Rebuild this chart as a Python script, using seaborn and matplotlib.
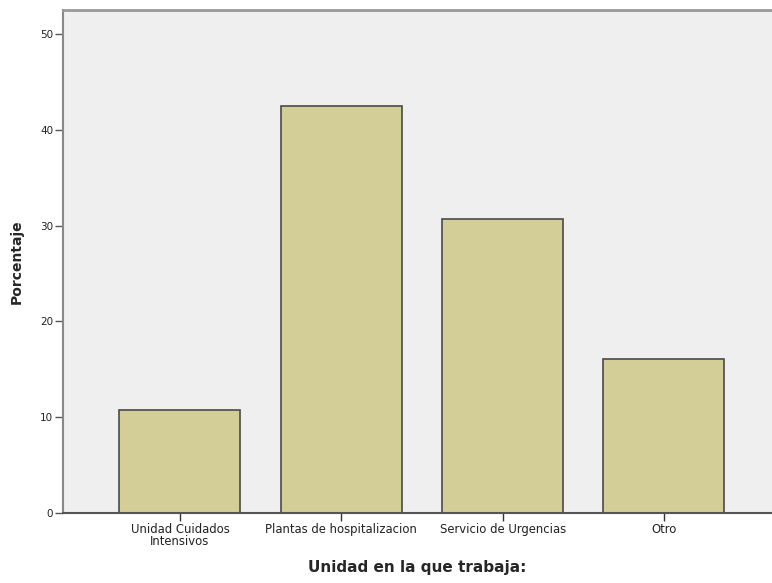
import pandas as pd
import matplotlib
matplotlib.use("Agg")
import matplotlib.pyplot as plt
import seaborn as sns

# ==============================================================================
# DATOS
# ==============================================================================
categorias = ["Unidad Cuidados\nIntensivos", "Plantas de hospitalizacion",
              "Servicio de Urgencias", "Otro"]
porcentaje = [10.7, 42.5, 30.7, 16.1]
ticks_y = [0, 10, 20, 30, 40, 50]

df = pd.DataFrame({"unidad": categorias, "porcentaje": porcentaje})

# ==============================================================================
# ESTILO
# ==============================================================================
sns.set_theme(style="white")
plt.rcParams["font.family"] = ["DejaVu Sans"]

fig = plt.figure(figsize=(7.72, 5.83), dpi=100)
ax = fig.add_axes([63 / 772, 70 / 583, 1 - 63 / 772, 503 / 583])
ax.set_facecolor("#EFEFEF")

sns.barplot(data=df, x="unidad", y="porcentaje", ax=ax, color="#D3CE97",
            saturation=1, width=0.75, edgecolor="#4A4A4A", linewidth=1.2)

ax.set_xlim(-0.725, 3.67)
ax.set_ylim(0, 52.5)
ax.set_yticks(ticks_y)

ax.tick_params(axis="y", labelsize=7.5, length=6, width=1, color="#555555",
               labelcolor="#222222", pad=1, left=True)
ax.tick_params(axis="x", labelsize=8.4, length=6, width=1, color="#333333",
               labelcolor="#222222", pad=1, bottom=True)
for lbl in ax.get_xticklabels():
    lbl.set_linespacing(0.9)

ax.spines["right"].set_visible(False)
ax.spines["top"].set_color("#999999")
ax.spines["top"].set_linewidth(2)
ax.spines["left"].set_color("#888888")
ax.spines["left"].set_linewidth(1.5)
ax.spines["bottom"].set_color("#555555")
ax.spines["bottom"].set_linewidth(1.5)

ax.set_xlabel("Unidad en la que trabaja:", fontsize=11, fontweight="bold",
              labelpad=9)
ax.set_ylabel("Porcentaje", fontsize=10, fontweight="bold", labelpad=12)

fig.savefig("out.png", dpi=100)
